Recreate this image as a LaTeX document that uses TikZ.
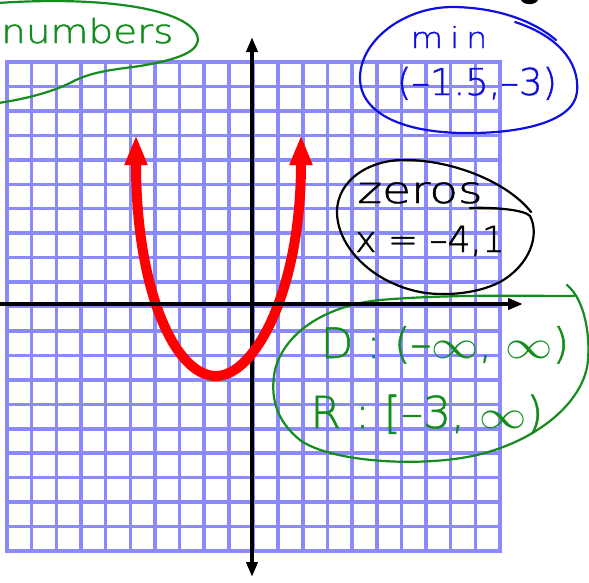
\documentclass[tikz,border=0pt]{standalone}
\usepackage{fontspec}
\usepackage{graphicx}
\usetikzlibrary{arrows.meta}
\newfontfamily\hand{DejaVu Sans ExtraLight}[FakeBold=1.2]
\newcommand{\handsz}[1]{\hand\fontsize{#1}{#1}\selectfont}
\newcommand{\hinf}{\scalebox{1.9}[1.6]{$\infty$}}
\definecolor{gridc}{RGB}{138,138,252}
\definecolor{hgreen}{RGB}{20,140,30}
\definecolor{hblue}{RGB}{15,15,225}
\definecolor{cred}{RGB}{255,0,0}
\begin{document}
\begin{tikzpicture}[x=1pt,y=-1pt,
  gridline/.style={draw=gridc, line width=3.5pt, line cap=rect},
  axis/.style={draw=black, line width=4pt},
  loopline/.style={line width=2.2pt, line cap=round, line join=round},
  htext/.style={inner sep=0pt, text=#1},
  axtip/.tip={Triangle[width=11pt,length=15pt]},
  redtip/.tip={Triangle[width=21pt,length=30pt]}
]
\useasboundingbox (0,0) rectangle (589,582);
\clip (0,0) rectangle (589,582);
% grid
\foreach \i in {0,...,20} { \draw[gridline] ({7+24.65*\i},62) -- ({7+24.65*\i},551); }
\foreach \j in {0,...,20} { \draw[gridline] (7,{62+24.45*\j}) -- (500,{62+24.45*\j}); }
% title fragment
\fill[black] (521,0) .. controls (523,5) and (535,6) .. (538,0) -- cycle;
% annotation loops
\draw[loopline, hgreen] (-2,3) .. controls (100,-4) and (185,8) .. (197,35)
  .. controls (203,52) and (175,60) .. (140,66)
  .. controls (110,70) and (90,72) .. (70,83)
  .. controls (50,93) and (20,100) .. (-2,103);
\draw[loopline, hblue] (515,22) .. controls (555,35) and (580,60) .. (577,92)
  .. controls (574,122) and (520,134) .. (462,133)
  .. controls (400,132) and (360,112) .. (360,78)
  .. controls (360,40) and (405,6) .. (455,7)
  .. controls (500,8) and (535,22) .. (556,40);
\draw[loopline, black] (470,208) .. controls (495,207) and (525,210) .. (530,216)
  .. controls (540,235) and (530,265) .. (500,282)
  .. controls (475,295) and (440,296) .. (420,292)
  .. controls (370,282) and (337,245) .. (337,212)
  .. controls (337,180) and (370,158) .. (410,160)
  .. controls (460,162) and (510,185) .. (531,212);
\draw[loopline, hgreen] (567,285) .. controls (585,300) and (590,335) .. (588,360)
  .. controls (585,400) and (540,440) .. (477,455)
  .. controls (420,468) and (330,462) .. (300,440)
  .. controls (275,420) and (270,395) .. (275,370)
  .. controls (285,330) and (330,305) .. (380,300)
  .. controls (450,294) and (530,296) .. (574,296);
% texts
\node[htext=hgreen, anchor=base west] (num) at (1,43) {\handsz{33}\scalebox{1.18}[1]{numbers}};
\node[htext=hblue, anchor=base] (min) at (449,48) {\handsz{29}\scalebox{1.15}[1]{m\hspace{6pt}i\hspace{6pt}n}};
\node[htext=hblue, anchor=base] (minpt) at (477,95) {\handsz{37}(–1.5,–3)};
\node[htext=black, anchor=base] (zer) at (420,203) {\handsz{37}\scalebox{1.27}[1]{zeros}};
\node[htext=black, anchor=base] (zx) at (430,252) {\handsz{36}x = –4,1};
\node[htext=hgreen, anchor=base] (dom) at (445,358) {\handsz{42}D : (–\hinf, \hinf)};
\node[htext=hgreen, anchor=base] (ran) at (427,428) {\handsz{44}R : [–3, \hinf)};
% axes and curve
\coordinate (ytop) at (252,37);
\coordinate (ybot) at (252,577);
\coordinate (xl) at (-4,304);
\coordinate (xr) at (523,304);
\coordinate (lt) at (136,135);
\coordinate (vx) at (216,376);
\coordinate (rt) at (301,135);
\draw[axis, axtip-axtip] (ytop) -- (ybot);
\draw[cred, line width=10pt, redtip-redtip] (lt) .. controls (136,290) and (175,376) .. (vx)
  .. controls (255,376) and (301,290) .. (rt);
\draw[axis, -axtip] (xl) -- (xr);
\end{tikzpicture}
\end{document}
